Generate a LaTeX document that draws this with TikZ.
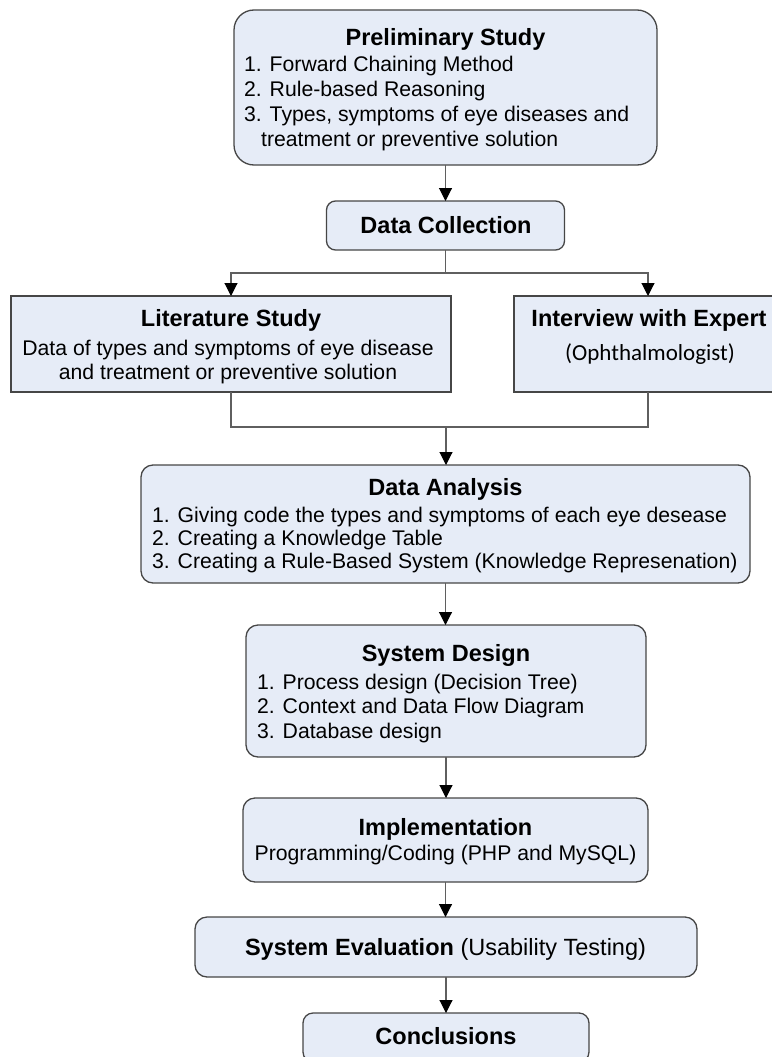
\documentclass[tikz,border=0pt]{standalone}
\usepackage{fontspec}
\setmainfont{Liberation Sans}
\newfontfamily\calfont{Carlito}
\usetikzlibrary{arrows.meta}
\definecolor{boxfill}{RGB}{230,236,247}
\definecolor{boxline}{RGB}{70,70,70}
\definecolor{connline}{RGB}{95,95,95}
\begin{document}
\begin{tikzpicture}[x=1pt,y=-1pt,
  panel/.style={draw=boxline, line width=1.3pt, fill=boxfill, inner sep=0pt, outer sep=0pt},
  ttl/.style={font=\fontsize{23.5}{26}\selectfont\bfseries, inner sep=0pt, anchor=base},
  itm/.style={font=\fontsize{21.2}{24}\selectfont, inner sep=0pt, anchor=base west},
  ctr/.style={font=\fontsize{21.2}{24}\selectfont, inner sep=0pt, anchor=base},
  conn/.style={draw=connline, line width=1.1pt},
  arr/.style={conn, -{Triangle[length=13pt,width=13pt,color=black]}}
]
\useasboundingbox (0,0) rectangle (771,1057);

% Preliminary Study
\node[panel, rounded corners=20pt, minimum width=423pt, minimum height=155pt] (ps) at (445.5,87.5) {};
\node[ttl] (pst) at (445.5,46) {Preliminary Study};
\node[itm] (ps1) at (244,71) {1. Forward Chaining Method};
\node[itm] (ps2) at (244,96) {2. Rule-based Reasoning};
\node[itm] (ps3) at (244,121) {3. Types, symptoms of eye diseases and};
\node[itm] (ps4) at (261,146) {treatment or preventive solution};

% Data Collection
\node[panel, rounded corners=9pt, minimum width=238pt, minimum height=49pt] (dc) at (445.5,225.5) {};
\node[ttl] (dct) at (446,233.5) {Data Collection};

% Literature Study
\node[panel, minimum width=440pt, minimum height=96pt] (lit) at (231,344) {};
\node[ttl] (litt) at (231,326) {Literature Study};
\node[ctr] (lit1) at (228,355.5) {Data of types and symptoms of eye disease};
\node[ctr] (lit2) at (228,379.5) {and treatment or preventive solution};

% Interview with Expert
\node[panel, minimum width=268pt, minimum height=96pt] (ie) at (648,344) {};
\node[ttl] (iet) at (649,326) {Interview with Expert};
\node[inner sep=0pt, anchor=base, font=\calfont\fontsize{23}{26}\selectfont] (ie1) at (650,360) {(Ophthalmologist)};

% Data Analysis
\node[panel, rounded corners=12pt, minimum width=609pt, minimum height=118pt] (da) at (445.5,524) {};
\node[ttl] (dat) at (445.5,495.5) {Data Analysis};
\node[itm] (da1) at (152,522.6) {1. Giving code the types and symptoms of each eye desease};
\node[itm] (da2) at (152,545.6) {2. Creating a Knowledge Table};
\node[itm] (da3) at (152,568.6) {3. Creating a Rule-Based System (Knowledge Represenation)};

% System Design
\node[panel, rounded corners=12pt, minimum width=400pt, minimum height=132pt] (sd) at (446,691) {};
\node[ttl] (sdt) at (446,661.5) {System Design};
\node[itm] (sd1) at (257,689.5) {1. Process design (Decision Tree)};
\node[itm] (sd2) at (257,713.5) {2. Context and Data Flow Diagram};
\node[itm] (sd3) at (257,738) {3. Database design};

% Implementation
\node[panel, rounded corners=12pt, minimum width=405pt, minimum height=84pt] (im) at (445.5,840) {};
\node[ttl] (imt) at (445.5,835.5) {Implementation};
\node[ctr] (im1) at (445.5,860.5) {Programming/Coding (PHP and MySQL)};

% System Evaluation
\node[panel, rounded corners=12pt, minimum width=502pt, minimum height=60pt] (se) at (446,947) {};
\node[inner sep=0pt, anchor=base, font=\fontsize{23.5}{26}\selectfont] (set) at (445.5,955.5) {\textbf{System Evaluation} (Usability Testing)};

% Conclusions
\node[panel, rounded corners=10pt, minimum width=286pt, minimum height=49pt] (cc) at (446,1037.5) {};
\node[ttl] (cct) at (446,1044.5) {Conclusions};

% Connectors
\draw[arr] (ps.south) -- (ps.south |- dc.north);
\draw[conn] (dc.south) -- ++(0,23) coordinate (split);
\draw[arr] (split) -| (lit.north);
\draw[arr] (split) -| (ie.north);
\coordinate (merge) at (446,427);
\draw[conn] (lit.south) |- (merge) -| (ie.south);
\draw[arr] (merge) -- (merge |- da.north);
\draw[arr] (da.south) -- (da.south |- sd.north);
\draw[arr] (sd.south) -- (sd.south |- im.north);
\draw[arr] (im.south) -- (im.south |- se.north);
\draw[arr] (se.south) -- (se.south |- cc.north);
\end{tikzpicture}
\end{document}
